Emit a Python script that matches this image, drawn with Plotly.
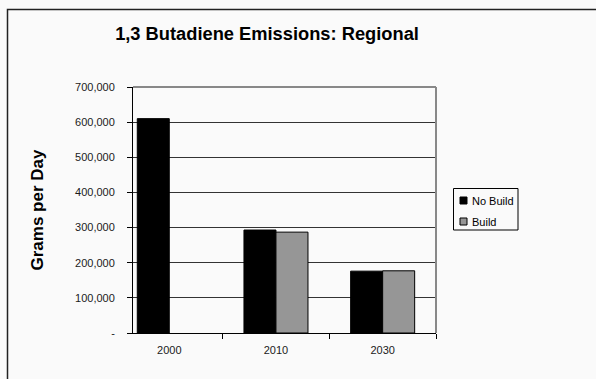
import plotly.graph_objects as go

categories = ["2000", "2010", "2030"]
no_build = [610000, 293000, 176000]
build = [None, 287000, 177000]
series_names = ["No Build", "Build"]
series_colors = ["#000000", "#969696"]
y_ticks = [0, 100000, 200000, 300000, 400000, 500000, 600000, 700000]
y_tick_labels = ["-", "100,000", "200,000", "300,000", "400,000", "500,000", "600,000", "700,000"]

W, H = 596, 379
L, R, T, B = 133, 436, 87, 333

fig = go.Figure()
for name, vals, col in zip(series_names, [no_build, build], series_colors):
    fig.add_trace(go.Bar(x=categories, y=vals, name=name,
                         marker=dict(color=col, line=dict(color="#000000", width=1))))

def px(x):
    return (x - L) / (R - L)

def py(y):
    return (B - y) / (B - T)

fig.update_layout(
    width=W, height=H,
    margin=dict(l=L, r=W - R, t=T, b=H - B),
    paper_bgcolor="#FAFAFA",
    plot_bgcolor="#FAFAFA",
    barmode="group",
    bargap=0.4,
    bargroupgap=0,
    font=dict(family="Liberation Sans, Arial, sans-serif", size=11, color="#1a1a1a"),
    title=dict(text="<b>1,3 Butadiene Emissions: Regional</b>",
               x=267 / W, xanchor="center", y=1 - 34 / H, yanchor="middle",
               font=dict(size=18.3, color="#000000")),
    showlegend=False,
    xaxis=dict(type="category", range=[-0.34, 2.5], tickson="boundaries",
               ticks="outside", ticklen=5, tickcolor="#000000",
               ticklabelstandoff=7,
               showline=True, linecolor="#000000", linewidth=1,
               showgrid=False, tickfont=dict(size=11, color="#1a1a1a"),
               mirror=False),
    yaxis=dict(range=[0, 700000], tickmode="array", tickvals=y_ticks, ticktext=y_tick_labels,
               ticks="outside", ticklen=5, tickcolor="#000000",
               ticklabelstandoff=10,
               showline=True, linecolor="#000000", linewidth=1,
               showgrid=True, gridcolor="#333333", gridwidth=1,
               zeroline=False,
               title=dict(text="<b>Grams per Day</b>", font=dict(size=17, color="#000000"), standoff=27),
               tickfont=dict(size=11, color="#1a1a1a")),
)

# plot-area border on top and right (gray)
fig.add_shape(type="line", xref="paper", yref="paper", x0=0, x1=1, y0=1, y1=1,
              line=dict(color="#888888", width=2))
fig.add_shape(type="line", xref="paper", yref="paper", x0=1, x1=1, y0=0, y1=1,
              line=dict(color="#888888", width=2))
# outer chart frame
fig.add_shape(type="rect", xref="paper", yref="paper",
              x0=px(7.5), x1=px(W + 40), y0=py(H + 40), y1=py(9.5),
              line=dict(color="#222222", width=1.5), layer="below")

# legend box (drawn manually to match compact Excel-style legend)
fig.add_shape(type="rect", xref="paper", yref="paper",
              x0=px(453.5), x1=px(518), y0=py(230), y1=py(188.5),
              line=dict(color="#000000", width=1), fillcolor="#FAFAFA")
for i, (name, col) in enumerate(zip(series_names, series_colors)):
    cy = 200.5 + i * 21
    fig.add_shape(type="rect", xref="paper", yref="paper",
                  x0=px(460), x1=px(467), y0=py(cy + 3.5), y1=py(cy - 3.5),
                  line=dict(color="#000000", width=1), fillcolor=col)
    fig.add_annotation(xref="paper", yref="paper", x=px(470), y=py(cy),
                       xanchor="left", yanchor="middle", text=name, showarrow=False,
                       font=dict(size=11, color="#000000"))

fig.write_html("out.html")
